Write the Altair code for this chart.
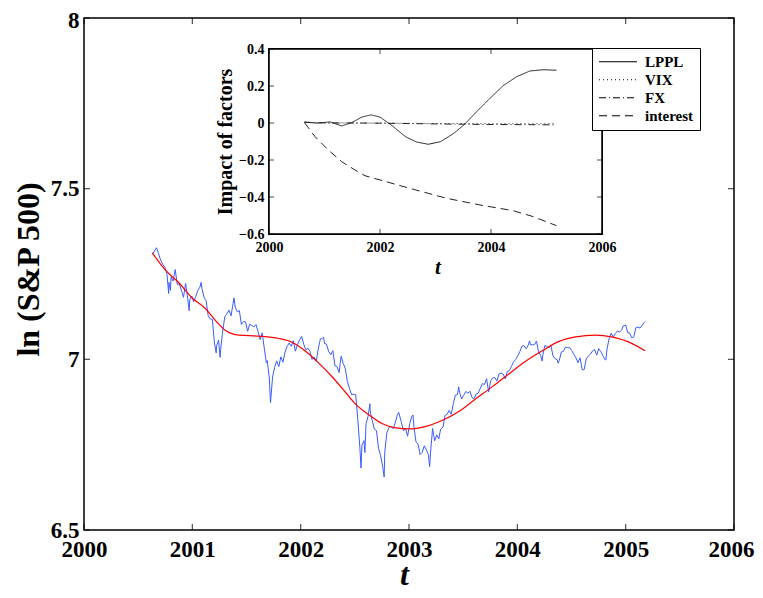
import altair as alt
import numpy as np
import pandas as pd

# ---------------- data ----------------
# S&P 500 closes (weekly plus notable daily extremes), Aug 2000 - Mar 2005
sp_dates = [
    "2000-08-18", "2000-08-25", "2000-09-01", "2000-09-08", "2000-09-15", "2000-09-22", "2000-09-29",
    "2000-10-06", "2000-10-12", "2000-10-13", "2000-10-18", "2000-10-20", "2000-10-27", "2000-11-03",
    "2000-11-10", "2000-11-17", "2000-11-24", "2000-12-01", "2000-12-08", "2000-12-15", "2000-12-20",
    "2000-12-22", "2000-12-29", "2001-01-05", "2001-01-12", "2001-01-19", "2001-01-26", "2001-01-30",
    "2001-02-02", "2001-02-09", "2001-02-16", "2001-02-23", "2001-03-02", "2001-03-09", "2001-03-16",
    "2001-03-22", "2001-03-23", "2001-03-30", "2001-04-04", "2001-04-06", "2001-04-12", "2001-04-20",
    "2001-04-27", "2001-05-04", "2001-05-11", "2001-05-18", "2001-05-21", "2001-05-25", "2001-06-01",
    "2001-06-08", "2001-06-15", "2001-06-22", "2001-06-29", "2001-07-06", "2001-07-13", "2001-07-20",
    "2001-07-27", "2001-08-03", "2001-08-10", "2001-08-17", "2001-08-24", "2001-08-31", "2001-09-07",
    "2001-09-10", "2001-09-17", "2001-09-21", "2001-09-28", "2001-10-05", "2001-10-12", "2001-10-19",
    "2001-10-26", "2001-11-02", "2001-11-09", "2001-11-16", "2001-11-23", "2001-11-30", "2001-12-07",
    "2001-12-14", "2001-12-21", "2001-12-28", "2002-01-04", "2002-01-11", "2002-01-18", "2002-01-25",
    "2002-02-01", "2002-02-08", "2002-02-15", "2002-02-22", "2002-03-01", "2002-03-08", "2002-03-15",
    "2002-03-19", "2002-03-22", "2002-03-28", "2002-04-05", "2002-04-12", "2002-04-19", "2002-04-26",
    "2002-05-03", "2002-05-10", "2002-05-17", "2002-05-24", "2002-05-31", "2002-06-07", "2002-06-14",
    "2002-06-21", "2002-06-28", "2002-07-05", "2002-07-12", "2002-07-19", "2002-07-23", "2002-07-26",
    "2002-08-02", "2002-08-05", "2002-08-09", "2002-08-16", "2002-08-22", "2002-08-23", "2002-08-30",
    "2002-09-06", "2002-09-13", "2002-09-20", "2002-09-27", "2002-10-04", "2002-10-09", "2002-10-11",
    "2002-10-18", "2002-10-25", "2002-11-01", "2002-11-08", "2002-11-15", "2002-11-22", "2002-11-27",
    "2002-12-06", "2002-12-13", "2002-12-20", "2002-12-27", "2003-01-03", "2003-01-10", "2003-01-14",
    "2003-01-17", "2003-01-24", "2003-01-31", "2003-02-07", "2003-02-14", "2003-02-21", "2003-02-28",
    "2003-03-07", "2003-03-11", "2003-03-14", "2003-03-21", "2003-03-28", "2003-04-04", "2003-04-11",
    "2003-04-17", "2003-04-25", "2003-05-02", "2003-05-09", "2003-05-16", "2003-05-23", "2003-05-30",
    "2003-06-06", "2003-06-13", "2003-06-17", "2003-06-20", "2003-06-27", "2003-07-03", "2003-07-11",
    "2003-07-18", "2003-07-25", "2003-08-01", "2003-08-08", "2003-08-15", "2003-08-22", "2003-08-29",
    "2003-09-05", "2003-09-12", "2003-09-19", "2003-09-26", "2003-10-03", "2003-10-10", "2003-10-17",
    "2003-10-24", "2003-10-31", "2003-11-07", "2003-11-14", "2003-11-21", "2003-11-28", "2003-12-05",
    "2003-12-12", "2003-12-19", "2003-12-26", "2004-01-02", "2004-01-09", "2004-01-16", "2004-01-23",
    "2004-01-30", "2004-02-06", "2004-02-11", "2004-02-13", "2004-02-20", "2004-02-27", "2004-03-05",
    "2004-03-12", "2004-03-19", "2004-03-24", "2004-03-26", "2004-04-02", "2004-04-08", "2004-04-16",
    "2004-04-23", "2004-04-30", "2004-05-07", "2004-05-14", "2004-05-17", "2004-05-21", "2004-05-28",
    "2004-06-04", "2004-06-10", "2004-06-18", "2004-06-25", "2004-07-02", "2004-07-09", "2004-07-16",
    "2004-07-23", "2004-07-30", "2004-08-06", "2004-08-12", "2004-08-13", "2004-08-20", "2004-08-27",
    "2004-09-03", "2004-09-10", "2004-09-17", "2004-09-24", "2004-10-01", "2004-10-08", "2004-10-15",
    "2004-10-22", "2004-10-25", "2004-10-29", "2004-11-05", "2004-11-12", "2004-11-19", "2004-11-26",
    "2004-12-03", "2004-12-10", "2004-12-17", "2004-12-23", "2004-12-31", "2005-01-07", "2005-01-14",
    "2005-01-21", "2005-01-28", "2005-02-04", "2005-02-11", "2005-02-18", "2005-02-25", "2005-03-04",
    "2005-03-07",
]
sp_close = [
    1491.72, 1506.45, 1520.77, 1494.50, 1465.81, 1449.05, 1436.51,
    1408.99, 1329.78, 1374.17, 1342.13, 1396.93, 1379.58, 1426.69,
    1365.98, 1367.72, 1341.77, 1315.23, 1369.89, 1312.15, 1264.74,
    1305.95, 1320.28, 1298.35, 1318.32, 1342.54, 1354.95, 1373.73,
    1349.47, 1314.76, 1301.53, 1245.86, 1234.18, 1233.42, 1150.53,
    1117.58, 1139.83, 1160.33, 1103.25, 1128.43, 1183.50, 1242.98,
    1253.05, 1266.61, 1245.67, 1291.96, 1312.83, 1277.89, 1260.67,
    1264.96, 1214.36, 1225.35, 1224.38, 1190.59, 1215.68, 1210.85,
    1205.82, 1214.35, 1190.16, 1161.97, 1184.93, 1133.58, 1085.78,
    1092.54, 1038.77, 965.80, 1040.94, 1071.38, 1091.65, 1073.48,
    1104.61, 1087.20, 1120.31, 1138.65, 1150.34, 1139.45, 1158.31,
    1123.09, 1144.89, 1161.02, 1172.51, 1145.60, 1127.58, 1133.28,
    1122.20, 1096.22, 1104.18, 1089.84, 1131.78, 1164.31, 1166.16,
    1170.29, 1148.70, 1147.39, 1122.73, 1111.01, 1125.17, 1076.32,
    1073.43, 1054.99, 1106.59, 1083.82, 1067.14, 1027.53, 1007.27,
    989.14, 989.82, 989.03, 921.39, 847.75, 797.70, 852.84,
    864.24, 834.60, 908.64, 928.77, 962.70, 940.86, 916.07,
    893.92, 889.81, 845.39, 827.37, 800.58, 776.76, 835.32,
    884.39, 897.65, 900.96, 894.74, 909.83, 930.55, 938.87,
    912.23, 889.48, 895.76, 875.40, 908.59, 927.57, 931.66,
    901.78, 861.40, 855.70, 829.69, 834.89, 851.17, 841.15,
    828.89, 800.73, 833.27, 895.79, 863.50, 878.85, 868.30,
    893.58, 898.81, 930.08, 933.41, 944.30, 933.22, 963.59,
    987.76, 988.61, 1011.66, 995.69, 976.22, 985.70, 998.14,
    993.32, 998.68, 980.15, 977.59, 990.67, 993.06, 1008.01,
    1021.39, 1018.63, 1036.30, 996.85, 1029.85, 1038.73, 1039.32,
    1028.91, 1050.71, 1053.21, 1050.35, 1035.28, 1058.20, 1061.50,
    1074.14, 1088.66, 1095.89, 1108.48, 1121.86, 1139.83, 1141.55,
    1131.13, 1142.76, 1157.76, 1145.81, 1144.11, 1144.94, 1156.86,
    1120.57, 1109.78, 1091.33, 1108.06, 1141.81, 1139.32, 1134.61,
    1140.60, 1107.30, 1098.70, 1095.70, 1084.10, 1093.56, 1120.68,
    1122.50, 1136.47, 1135.02, 1134.43, 1125.38, 1112.81, 1101.39,
    1086.20, 1101.72, 1063.97, 1063.23, 1064.80, 1098.35, 1107.77,
    1113.63, 1123.92, 1128.55, 1110.11, 1131.50, 1122.14, 1108.20,
    1095.74, 1094.81, 1130.20, 1166.17, 1184.17, 1170.34, 1182.65,
    1191.17, 1188.00, 1194.20, 1210.13, 1211.92, 1186.19, 1184.52,
    1167.87, 1171.36, 1203.03, 1205.30, 1201.59, 1211.37, 1222.12,
    1225.31,
]

# LPPL fit (red curve)
fit_t = [2000.63, 2000.75, 2000.88, 2001.00, 2001.12, 2001.21, 2001.31, 2001.43, 2001.61,
         2001.80, 2001.92, 2002.04, 2002.17, 2002.29, 2002.41, 2002.50, 2002.63, 2002.75,
         2002.88, 2003.00, 2003.15, 2003.30, 2003.46, 2003.61, 2003.77, 2003.92, 2004.07,
         2004.23, 2004.38, 2004.54, 2004.72, 2004.87, 2005.02, 2005.18]
fit_v = [7.312, 7.262, 7.223, 7.179, 7.149, 7.115, 7.084, 7.071, 7.068,
         7.061, 7.050, 7.025, 6.988, 6.949, 6.905, 6.871, 6.837, 6.812,
         6.799, 6.796, 6.803, 6.820, 6.847, 6.883, 6.920, 6.957, 6.993,
         7.025, 7.052, 7.066, 7.071, 7.066, 7.052, 7.025]

# inset: impact of factors
lppl_t = [2000.64, 2000.87, 2001.10, 2001.31, 2001.49, 2001.67, 2001.84, 2002.00, 2002.22,
          2002.46, 2002.66, 2002.87, 2003.09, 2003.33, 2003.53, 2003.74, 2003.98, 2004.22,
          2004.46, 2004.70, 2004.94, 2005.18]
lppl_v = [0.005, -0.001, 0.006, -0.016, 0.002, 0.032, 0.044, 0.032, -0.015,
          -0.074, -0.103, -0.115, -0.101, -0.056, -0.005, 0.061, 0.133, 0.202,
          0.250, 0.281, 0.288, 0.285]
vix_t = [2000.64, 2001.00, 2002.00, 2003.00, 2004.00, 2005.18]
vix_v = [0.004, 0.000, 0.000, -0.003, -0.004, -0.004]
fx_t = [2000.64, 2001.00, 2002.00, 2003.00, 2004.00, 2005.18]
fx_v = [0.004, 0.001, -0.001, -0.005, -0.008, -0.010]
int_t = [2000.64, 2000.83, 2001.07, 2001.31, 2001.55, 2001.73, 2002.00, 2002.62, 2003.20,
         2003.80, 2004.40, 2004.76, 2005.18]
int_v = [0.002, -0.074, -0.146, -0.209, -0.254, -0.285, -0.308, -0.360, -0.407,
         -0.443, -0.474, -0.506, -0.555]
series_names = ["LPPL", "VIX", "FX", "interest"]

# ticks / labels
main_years = [2000, 2001, 2002, 2003, 2004, 2005, 2006]
main_levels = [6.5, 7.0, 7.5, 8.0]
inset_years = [2000, 2002, 2004, 2006]
inset_levels = [-0.6, -0.4, -0.2, 0.0, 0.2, 0.4]

# ---------------- tables ----------------
dts = pd.to_datetime(pd.Series(sp_dates))
sp_df = pd.DataFrame({
    "t": dts.dt.year + (dts.dt.dayofyear - 0.5) / 365.25,
    "v": np.log(np.array(sp_close)),
})
fit_df = pd.DataFrame({"t": fit_t, "v": fit_v})
inset_df = pd.concat([
    pd.DataFrame({"t": lppl_t, "v": lppl_v, "series": "LPPL"}),
    pd.DataFrame({"t": vix_t, "v": vix_v, "series": "VIX"}),
    pd.DataFrame({"t": fx_t, "v": fx_v, "series": "FX"}),
    pd.DataFrame({"t": int_t, "v": int_v, "series": "interest"}),
], ignore_index=True)
mx_df = pd.DataFrame({"v": main_years})
my_df = pd.DataFrame({"v": main_levels})
ix_df = pd.DataFrame({"v": inset_years})
iy_df = pd.DataFrame({"v": inset_levels})

FONT = "Liberation Serif"
W, H = 650, 512
PAD_L, PAD_T = 76, 10
IX0, IX1 = 269 - 8 - PAD_L, 602 - 8 - PAD_L      # inset frame, plot-relative pixels
IY0, IY1 = 234 - 8 - PAD_T, 49 - 8 - PAD_T

# ---------------- main panel ----------------
mxs = alt.Scale(domain=[2000, 2006], nice=False, zero=False)
mys = alt.Scale(domain=[6.5, 8], nice=False, zero=False)
mxa = alt.Axis(title="t", values=main_years, format="d", labelFontSize=23, ticks=False, tickSize=0,
               domain=False, grid=False, labelPadding=8, labelFlush=False, labelOverlap=False,
               labelOffset={"expr": "datum.value == 2006 ? -3 : 0"},
               titleFontSize=32, titleFontStyle="italic", titleX=320, titleY=54,
               titleBaseline="alphabetic", titleAlign="center")
mya = alt.Axis(title="ln (S&P 500)", values=main_levels, format="~g", labelFontSize=23, ticks=False,
               tickSize=0, domain=False, grid=False, labelPadding=5, labelFlush=False, labelOverlap=False,
               labelOffset={"expr": "datum.value == 8 ? 2 : 0"},
               titleFontSize=32, titleAngle=270, titleX=-46, titleY=251,
               titleBaseline="alphabetic", titleAlign="center")

blue = alt.Chart(sp_df).mark_line(color="#3a5cff", strokeWidth=1).encode(
    x=alt.X("t:Q", scale=mxs, axis=mxa), y=alt.Y("v:Q", scale=mys, axis=mya))
red = alt.Chart(fit_df).mark_line(color="#ff0000", strokeWidth=1.2, interpolate="monotone").encode(
    x=alt.X("t:Q", scale=mxs, axis=mxa), y=alt.Y("v:Q", scale=mys, axis=mya))
mt_bottom = alt.Chart(mx_df).mark_tick(orient="vertical", size=6, thickness=1.2, color="black", yOffset=-3).encode(
    x=alt.X("v:Q", scale=mxs, axis=mxa), y=alt.Y(datum=6.5, scale=mys, axis=mya))
mt_top = alt.Chart(mx_df).mark_tick(orient="vertical", size=6, thickness=1.2, color="black", yOffset=3).encode(
    x=alt.X("v:Q", scale=mxs, axis=mxa), y=alt.Y(datum=8, scale=mys, axis=mya))
mt_left = alt.Chart(my_df).mark_tick(orient="horizontal", size=6, thickness=1.2, color="black", xOffset=3).encode(
    x=alt.X(datum=2000, scale=mxs, axis=mxa), y=alt.Y("v:Q", scale=mys, axis=mya))
mt_right = alt.Chart(my_df).mark_tick(orient="horizontal", size=6, thickness=1.2, color="black", xOffset=-3).encode(
    x=alt.X(datum=2006, scale=mxs, axis=mxa), y=alt.Y("v:Q", scale=mys, axis=mya))

main = alt.layer(blue, red, mt_bottom, mt_top, mt_left, mt_right)

# ---------------- inset panel ----------------
ixs = alt.Scale(domain=[2000, 2006], range=[IX0, IX1], nice=False, zero=False)
iys = alt.Scale(domain=[-0.6, 0.4], range=[IY0, IY1], nice=False, zero=False)
ixa = alt.Axis(title="t", orient="bottom", offset=IY0 - H, values=inset_years, format="d", labelFontSize=14,
               ticks=False, tickSize=0, domain=False, grid=False, labelPadding=6, labelFlush=False,
               labelOverlap=False, titleFontSize=21, titleFontStyle="italic", titleX=(IX0 + IX1) / 2 + 2,
               titleY=39, titleBaseline="alphabetic", titleAlign="center")
iya = alt.Axis(title="Impact of factors", orient="left", offset=-IX0, values=inset_levels, format="~g",
               labelFontSize=14, ticks=False, tickSize=0, domain=False, grid=False, labelPadding=5,
               labelFlush=False, labelOverlap=False, titleFontSize=20, titleAngle=270, titleX=-38,
               titleY=(IY0 + IY1) / 2, titleBaseline="alphabetic", titleAlign="center")

frame = alt.Chart(ix_df).mark_rect(fill="white", stroke="black", strokeWidth=1.5).encode(
    x=alt.X(datum=2000, scale=ixs, axis=ixa), x2=alt.X2(datum=2006),
    y=alt.Y(datum=-0.6, scale=iys, axis=iya), y2=alt.Y2(datum=0.4))

legend = alt.Legend(orient="none", legendX=592 - 8 - PAD_L, legendY=48 - 8 - PAD_T, title=None,
                    symbolType="stroke", symbolSize=1444, symbolStrokeWidth=1.2, symbolStrokeColor="black",
                    labelFont=FONT, labelFontWeight="bold", labelFontSize=15, labelColor="black",
                    fillColor="white", strokeColor="black", padding=6, clipHeight=15.5, rowPadding=2,
                    labelOffset=7, cornerRadius=0)
lines = alt.Chart(inset_df).mark_line(color="#222222", strokeWidth=1).encode(
    x=alt.X("t:Q", scale=ixs, axis=ixa), y=alt.Y("v:Q", scale=iys, axis=iya),
    strokeDash=alt.StrokeDash("series:N", scale=alt.Scale(domain=series_names,
                              range=[[1, 0], [1, 3], [7, 3, 1, 3], [8, 5]]), legend=legend),
    detail="series:N")
it_bottom = alt.Chart(ix_df).mark_tick(orient="vertical", size=5, thickness=1, color="black", yOffset=-2.5).encode(
    x=alt.X("v:Q", scale=ixs, axis=ixa), y=alt.Y(datum=-0.6, scale=iys, axis=iya))
it_top = alt.Chart(ix_df).mark_tick(orient="vertical", size=5, thickness=1, color="black", yOffset=2.5).encode(
    x=alt.X("v:Q", scale=ixs, axis=ixa), y=alt.Y(datum=0.4, scale=iys, axis=iya))
it_left = alt.Chart(iy_df).mark_tick(orient="horizontal", size=5, thickness=1, color="black", xOffset=2.5).encode(
    x=alt.X(datum=2000, scale=ixs, axis=ixa), y=alt.Y("v:Q", scale=iys, axis=iya))
it_right = alt.Chart(iy_df).mark_tick(orient="horizontal", size=5, thickness=1, color="black", xOffset=-2.5).encode(
    x=alt.X(datum=2006, scale=ixs, axis=ixa), y=alt.Y("v:Q", scale=iys, axis=iya))

inset = alt.layer(frame, lines, it_bottom, it_top, it_left, it_right)

chart = alt.layer(main, inset).resolve_scale(x="independent", y="independent").properties(
    width=W, height=H,
    background="white",
    autosize=alt.AutoSizeParams(type="none"),
    padding={"left": PAD_L, "top": PAD_T, "right": 747 - PAD_L - W, "bottom": 60},
).configure_view(stroke="black", strokeWidth=1.5).configure_axis(
    labelFont=FONT, titleFont=FONT, labelFontWeight="bold", titleFontWeight="bold",
    labelColor="black", titleColor="black",
)

chart.save("out.html", embed_options={"renderer": "svg", "actions": False})
